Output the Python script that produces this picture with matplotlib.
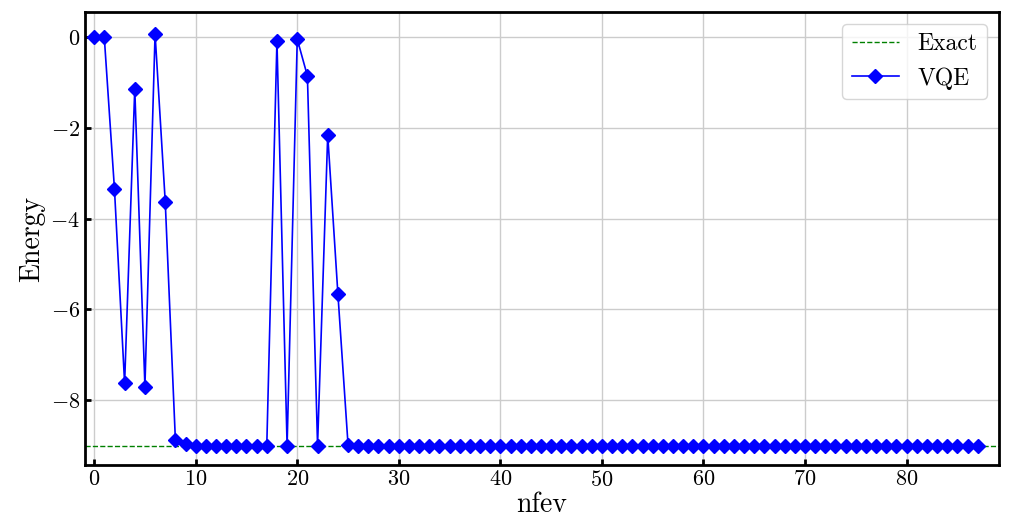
import numpy as np
import matplotlib
matplotlib.use("Agg")
import matplotlib.pyplot as plt

plt.rcParams['font.family'] = 'serif'
plt.rcParams['font.serif'] = ['cmr10', 'DejaVu Serif']
plt.rcParams['mathtext.fontset'] = 'cm'
plt.rcParams['axes.formatter.use_mathtext'] = True

exact_energy = -9.0

# VQE energies for each function evaluation
vqe_head = [0.0, 0.0, -3.34, -7.63, -1.13, -7.70, 0.08, -3.62, -8.88, -8.97,
            -9.0, -9.0, -9.0, -9.0, -9.0, -9.0, -9.0, -9.0, -0.08, -9.0,
            -0.04, -0.85, -9.0, -2.15, -5.65, -8.98]
vqe_tail = [-9.0] * 62
vqe_energy = vqe_head + vqe_tail
nfev = np.arange(len(vqe_energy))

fig = plt.figure(figsize=(10.22, 5.26), dpi=100)
ax = fig.add_axes([85/1022, 1 - 465/526, (999-85)/1022, (465-12)/526])

ax.axhline(exact_energy, color='green', linestyle='--', linewidth=1.0, label='Exact')
ax.plot(nfev, vqe_energy, color='blue', marker='D', markersize=7, linewidth=1.2, label='VQE')

ax.set_xlim(-0.9, 89.1)
ax.set_ylim(-9.43, 0.56)
ax.set_xticks(np.arange(0, 90, 10))
ax.set_yticks([0, -2, -4, -6, -8])
ax.grid(True, color='#cccccc', linewidth=1.0)
ax.set_axisbelow(True)

for s in ax.spines.values():
    s.set_linewidth(2.0)
ax.tick_params(direction='in', width=2, length=4, labelsize=16)

ax.set_xlabel('nfev', fontsize=20, labelpad=1)
ax.set_ylabel('Energy', fontsize=20)
ax.legend(loc='upper right', fontsize=17, framealpha=0.8, borderaxespad=0.5)

fig.savefig('out.png', dpi=100)
